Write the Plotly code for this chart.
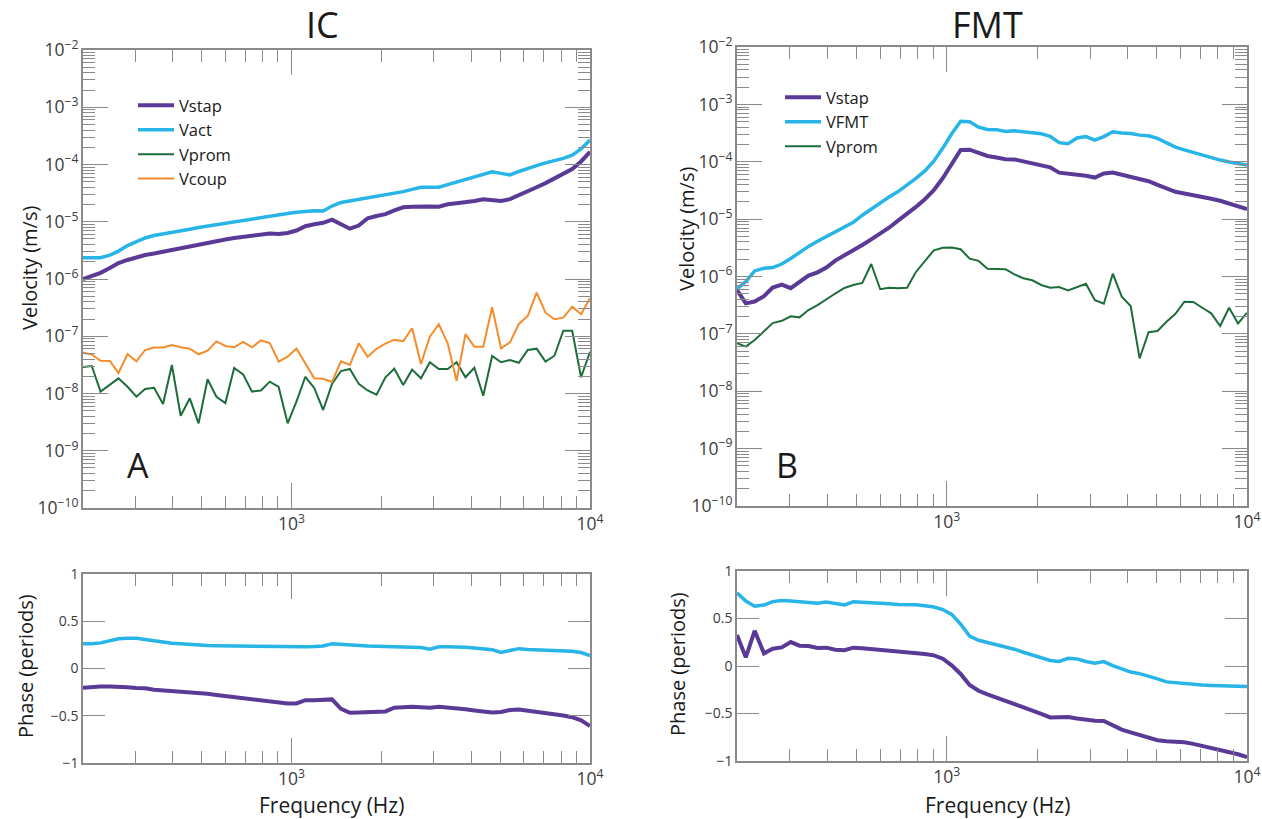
import math
import plotly.graph_objects as go

# Sweep frequencies (Hz)
freq = [200, 214, 229, 246, 263, 282, 302, 323, 346, 371,
        397, 425, 456, 488, 523, 560, 600, 642, 688, 737,
        789, 845, 905, 970, 1038, 1112, 1191, 1276, 1366, 1464,
        1568, 1679, 1798, 1926, 2063, 2209, 2366, 2534, 2714, 2907,
        3114, 3335, 3572, 3826, 4097, 4388, 4700, 5034, 5392, 5775,
        6185, 6624, 7095, 7599, 8139, 8717, 9336, 10000]

# IC: velocity amplitudes (m/s)
ic_vstap = [1.00e-6, 1.11e-6, 1.28e-6, 1.56e-6, 1.90e-6, 2.15e-6, 2.38e-6, 2.63e-6, 2.79e-6, 3.00e-6,
            3.21e-6, 3.47e-6, 3.79e-6, 4.09e-6, 4.35e-6, 4.61e-6, 4.90e-6, 5.20e-6, 5.46e-6, 5.70e-6,
            6.07e-6, 6.24e-6, 6.11e-6, 6.38e-6, 7.03e-6, 8.36e-6, 9.06e-6, 9.59e-6, 1.09e-5, 8.95e-6,
            7.57e-6, 8.59e-6, 1.15e-5, 1.26e-5, 1.36e-5, 1.58e-5, 1.79e-5, 1.82e-5, 1.86e-5, 1.85e-5,
            1.83e-5, 2.02e-5, 2.11e-5, 2.19e-5, 2.30e-5, 2.46e-5, 2.40e-5, 2.31e-5, 2.48e-5, 2.88e-5,
            3.39e-5, 4.00e-5, 4.73e-5, 5.69e-5, 6.93e-5, 8.34e-5, 1.13e-4, 1.67e-4]
ic_vact = [2.36e-6, 2.36e-6, 2.36e-6, 2.61e-6, 3.07e-6, 3.83e-6, 4.49e-6, 5.20e-6, 5.75e-6, 6.11e-6,
           6.62e-6, 6.78e-6, 7.41e-6, 7.94e-6, 8.43e-6, 8.88e-6, 9.35e-6, 9.91e-6, 1.05e-5, 1.12e-5,
           1.19e-5, 1.26e-5, 1.32e-5, 1.39e-5, 1.46e-5, 1.53e-5, 1.55e-5, 1.54e-5, 1.88e-5, 2.17e-5,
           2.30e-5, 2.47e-5, 2.64e-5, 2.79e-5, 2.96e-5, 3.09e-5, 3.36e-5, 3.67e-5, 4.00e-5, 4.00e-5,
           4.01e-5, 4.46e-5, 4.94e-5, 5.47e-5, 6.15e-5, 6.83e-5, 7.43e-5, 7.00e-5, 6.56e-5, 7.55e-5,
           8.65e-5, 9.57e-5, 1.07e-4, 1.17e-4, 1.28e-4, 1.45e-4, 1.87e-4, 2.68e-4]
ic_vprom = [2.90e-8, 3.02e-8, 1.08e-8, 1.41e-8, 1.84e-8, 1.31e-8, 8.79e-9, 1.20e-8, 1.26e-8, 6.56e-9,
            3.15e-8, 4.09e-9, 8.24e-9, 3.01e-9, 1.77e-8, 8.79e-9, 6.82e-9, 2.79e-8, 2.16e-8, 1.08e-8,
            1.13e-8, 1.61e-8, 1.30e-8, 3.01e-9, 7.19e-9, 1.96e-8, 1.25e-8, 5.15e-9, 1.47e-8, 2.47e-8,
            2.68e-8, 1.47e-8, 1.13e-8, 9.53e-9, 1.92e-8, 2.71e-8, 1.41e-8, 2.61e-8, 1.84e-8, 3.51e-8,
            2.68e-8, 2.68e-8, 3.51e-8, 1.92e-8, 2.82e-8, 9.16e-9, 4.52e-8, 3.51e-8, 3.85e-8, 3.45e-8,
            5.75e-8, 6.07e-8, 3.60e-8, 4.57e-8, 1.25e-7, 1.25e-7, 1.92e-8, 5.37e-8]
ic_vcoup = [5.16e-8, 4.80e-8, 3.74e-8, 3.70e-8, 2.28e-8, 4.90e-8, 3.65e-8, 5.75e-8, 6.36e-8, 6.36e-8,
            7.03e-8, 6.41e-8, 6.05e-8, 4.84e-8, 5.60e-8, 8.13e-8, 6.76e-8, 6.41e-8, 7.94e-8, 6.41e-8,
            8.45e-8, 7.62e-8, 3.59e-8, 4.40e-8, 6.11e-8, 3.33e-8, 1.85e-8, 1.81e-8, 1.59e-8, 3.65e-8,
            3.15e-8, 7.53e-8, 4.40e-8, 6.05e-8, 7.46e-8, 8.71e-8, 8.18e-8, 1.38e-7, 3.27e-8, 9.82e-8,
            1.62e-7, 7.53e-8, 1.67e-8, 1.09e-7, 6.56e-8, 6.56e-8, 3.21e-7, 6.17e-8, 7.83e-8, 1.64e-7,
            2.26e-7, 5.77e-7, 2.58e-7, 1.98e-7, 2.11e-7, 3.28e-7, 2.42e-7, 4.60e-7]

# FMT: velocity amplitudes (m/s)
fmt_vstap = [5.81e-7, 3.40e-7, 3.66e-7, 4.53e-7, 6.43e-7, 7.24e-7, 6.25e-7, 7.96e-7, 1.04e-6, 1.18e-6,
             1.43e-6, 1.89e-6, 2.32e-6, 2.94e-6, 3.55e-6, 4.44e-6, 5.52e-6, 7.08e-6, 9.42e-6, 1.22e-5,
             1.63e-5, 2.22e-5, 3.19e-5, 5.20e-5, 9.19e-5, 1.61e-4, 1.62e-4, 1.41e-4, 1.26e-4, 1.19e-4,
             1.11e-4, 1.10e-4, 1.01e-4, 9.38e-5, 8.83e-5, 7.98e-5, 6.45e-5, 6.15e-5, 6.08e-5, 5.72e-5,
             5.30e-5, 6.25e-5, 6.49e-5, 6.00e-5, 5.45e-5, 4.95e-5, 4.57e-5, 3.97e-5, 3.37e-5, 2.99e-5,
             2.80e-5, 2.64e-5, 2.46e-5, 2.27e-5, 2.09e-5, 1.89e-5, 1.71e-5, 1.49e-5]
fmt_vfmt = [6.05e-7, 8.18e-7, 1.25e-6, 1.39e-6, 1.43e-6, 1.65e-6, 2.06e-6, 2.61e-6, 3.35e-6, 4.10e-6,
            4.95e-6, 6.03e-6, 7.08e-6, 8.79e-6, 1.17e-5, 1.50e-5, 1.92e-5, 2.43e-5, 3.02e-5, 3.91e-5,
            5.15e-5, 6.93e-5, 1.02e-4, 1.73e-4, 3.07e-4, 5.07e-4, 4.99e-4, 4.00e-4, 3.65e-4, 3.63e-4,
            3.38e-4, 3.46e-4, 3.33e-4, 3.21e-4, 3.07e-4, 2.77e-4, 2.15e-4, 2.07e-4, 2.59e-4, 2.75e-4,
            2.38e-4, 2.75e-4, 3.33e-4, 3.16e-4, 3.10e-4, 2.91e-4, 2.83e-4, 2.56e-4, 2.12e-4, 1.80e-4,
            1.61e-4, 1.45e-4, 1.29e-4, 1.17e-4, 1.07e-4, 9.88e-5, 9.23e-5, 8.73e-5]
fmt_vprom = [6.90e-8, 6.00e-8, 7.80e-8, 1.12e-7, 1.54e-7, 1.69e-7, 2.02e-7, 1.94e-7, 2.60e-7, 3.18e-7,
             4.05e-7, 5.05e-7, 6.30e-7, 7.11e-7, 7.71e-7, 1.65e-6, 6.00e-7, 6.38e-7, 6.22e-7, 6.38e-7,
             1.20e-6, 1.87e-6, 2.86e-6, 3.18e-6, 3.21e-6, 2.98e-6, 2.05e-6, 1.87e-6, 1.37e-6, 1.35e-6,
             1.34e-6, 1.09e-6, 9.31e-7, 8.59e-7, 7.11e-7, 6.38e-7, 6.56e-7, 5.74e-7, 6.64e-7, 7.48e-7,
             3.85e-7, 3.35e-7, 1.12e-6, 4.44e-7, 3.05e-7, 3.73e-8, 1.07e-7, 1.12e-7, 1.63e-7, 2.24e-7,
             3.63e-7, 3.59e-7, 2.85e-7, 2.28e-7, 1.37e-7, 2.85e-7, 1.52e-7, 2.33e-7]

# Phase (periods)
ic_phase_act = [0.261, 0.261, 0.271, 0.296, 0.315, 0.319, 0.320, 0.308, 0.294, 0.278,
                0.268, 0.262, 0.254, 0.249, 0.243, 0.241, 0.239, 0.238, 0.236, 0.235,
                0.235, 0.234, 0.233, 0.232, 0.230, 0.229, 0.232, 0.238, 0.261, 0.254,
                0.244, 0.241, 0.239, 0.236, 0.234, 0.232, 0.229, 0.226, 0.222, 0.204,
                0.229, 0.229, 0.229, 0.225, 0.218, 0.210, 0.199, 0.171, 0.194, 0.210,
                0.201, 0.198, 0.194, 0.192, 0.188, 0.183, 0.169, 0.137]
ic_phase_stap = [-0.204, -0.195, -0.190, -0.190, -0.190, -0.199, -0.206, -0.209, -0.225, -0.231,
                 -0.237, -0.243, -0.249, -0.257, -0.268, -0.280, -0.292, -0.303, -0.313, -0.327,
                 -0.340, -0.354, -0.365, -0.370, -0.370, -0.335, -0.335, -0.333, -0.327, -0.426,
                 -0.468, -0.465, -0.461, -0.458, -0.454, -0.415, -0.405, -0.405, -0.410, -0.415,
                 -0.405, -0.412, -0.423, -0.432, -0.444, -0.455, -0.465, -0.461, -0.440, -0.433,
                 -0.444, -0.456, -0.470, -0.483, -0.497, -0.515, -0.549, -0.609]
fmt_phase_fmt = [0.771, 0.683, 0.629, 0.641, 0.678, 0.690, 0.683, 0.674, 0.667, 0.661,
                 0.674, 0.662, 0.643, 0.676, 0.672, 0.668, 0.666, 0.656, 0.648, 0.648,
                 0.644, 0.635, 0.621, 0.594, 0.543, 0.440, 0.315, 0.271, 0.249, 0.228,
                 0.205, 0.177, 0.145, 0.117, 0.091, 0.058, 0.047, 0.081, 0.075, 0.047,
                 0.029, 0.046, 0.005, -0.033, -0.064, -0.080, -0.104, -0.135, -0.167, -0.177,
                 -0.182, -0.193, -0.199, -0.204, -0.208, -0.212, -0.214, -0.217]
fmt_phase_stap = [0.326, 0.091, 0.371, 0.133, 0.182, 0.196, 0.252, 0.214, 0.210, 0.189,
                  0.193, 0.172, 0.166, 0.193, 0.186, 0.178, 0.172, 0.159, 0.147, 0.147,
                  0.138, 0.127, 0.112, 0.077, 0.007, -0.084, -0.200, -0.261, -0.299, -0.333,
                  -0.361, -0.392, -0.427, -0.462, -0.504, -0.541, -0.539, -0.536, -0.553, -0.567,
                  -0.576, -0.578, -0.625, -0.670, -0.698, -0.723, -0.753, -0.782, -0.792, -0.797,
                  -0.802, -0.820, -0.840, -0.864, -0.884, -0.905, -0.929, -0.960]

PURPLE = "#5b3a97"
CYAN = "#27b4e6"
GREEN = "#1d6d3b"
ORANGE = "#f68b2b"
AX = "#8a8a8a"
FONT = "Open Sans"
W, H = 1262, 819

fig = go.Figure()


def line(x, y, name, color, width, xa, ya, legend=None):
    fig.add_trace(go.Scatter(
        x=x, y=y, name=name, mode="lines",
        line=dict(color=color, width=width),
        xaxis=xa, yaxis=ya,
        showlegend=legend is not None,
        legend=legend or "legend",
    ))


# Panel A (IC)
line(freq, ic_vstap, "Vstap", PURPLE, 4, "x", "y", "legend")
line(freq, ic_vact, "Vact", CYAN, 3.5, "x", "y", "legend")
line(freq, ic_vprom, "Vprom", GREEN, 2, "x", "y", "legend")
line(freq, ic_vcoup, "Vcoup", ORANGE, 2, "x", "y", "legend")
# Panel B (FMT)
line(freq, fmt_vstap, "Vstap", PURPLE, 4, "x2", "y2", "legend2")
line(freq, fmt_vfmt, "VFMT", CYAN, 3.5, "x2", "y2", "legend2")
line(freq, fmt_vprom, "Vprom", GREEN, 2, "x2", "y2", "legend2")
# Phase panels
line(freq, ic_phase_act, "Vact", CYAN, 3.5, "x3", "y3")
line(freq, ic_phase_stap, "Vstap", PURPLE, 4, "x3", "y3")
line(freq, fmt_phase_fmt, "VFMT", CYAN, 3.5, "x4", "y4")
line(freq, fmt_phase_stap, "Vstap", PURPLE, 4, "x4", "y4")


def px_x(a, b):
    return [a / W, b / W]


def px_y(top, bottom):
    return [1 - bottom / H, 1 - top / H]


TICKFONT = dict(family=FONT, size=14, color="#3c3c3c")


def common(**kw):
    d = dict(showline=True, linecolor=AX, linewidth=1.5, mirror="allticks",
             ticks="inside", tickcolor=AX, tickwidth=1.2, showgrid=False,
             zeroline=False, tickfont=TICKFONT, automargin=False)
    d.update(kw)
    return d


def freq_axis(dom, anchor):
    return common(type="log", range=[math.log10(200), 4], domain=dom, anchor=anchor,
                  dtick=1, exponentformat="power", ticklen=25,
                  minor=dict(ticks="inside", ticklen=12, tickcolor=AX, tickwidth=1.2,
                             dtick="D1", showgrid=False))


def vel_axis(dom, anchor):
    return common(type="log", range=[-10, -2], domain=dom, anchor=anchor,
                  dtick=1, exponentformat="power", ticklen=25,
                  minor=dict(ticks="inside", ticklen=12, tickcolor=AX, tickwidth=1.2,
                             dtick="D1", showgrid=False))


def phase_axis(dom, anchor):
    return common(range=[-1, 1], domain=dom, anchor=anchor, dtick=0.5, ticklen=22)


LX = px_x(83, 590)
RX = px_x(737, 1247)

fig.update_layout(
    width=W, height=H,
    margin=dict(l=0, r=0, t=0, b=0, autoexpand=False),
    paper_bgcolor="white", plot_bgcolor="white",
    font=dict(family=FONT, color="#1a1a1a"),
    xaxis=freq_axis(LX, "y"),
    yaxis=vel_axis(px_y(50, 508), "x"),
    xaxis2=freq_axis(RX, "y2"),
    yaxis2=vel_axis(px_y(47, 506), "x2"),
    xaxis3=freq_axis(LX, "y3"),
    yaxis3=phase_axis(px_y(574, 763), "x3"),
    xaxis4=freq_axis(RX, "y4"),
    yaxis4=phase_axis(px_y(571, 761), "x4"),
    legend=dict(x=133 / W, y=1 - 88 / H, xanchor="left", yanchor="top",
                bgcolor="rgba(0,0,0,0)", font=dict(family=FONT, size=16.5, color="#1a1a1a"),
                itemwidth=36, tracegroupgap=0),
    legend2=dict(x=780 / W, y=1 - 80 / H, xanchor="left", yanchor="top",
                 bgcolor="rgba(0,0,0,0)", font=dict(family=FONT, size=16.5, color="#1a1a1a"),
                 itemwidth=36, tracegroupgap=0),
)

ann = []


def text(x, y, s, size, angle=0):
    ann.append(dict(x=x / W, y=1 - y / H, xref="paper", yref="paper", text=s,
                    showarrow=False, textangle=angle, xanchor="center", yanchor="middle",
                    font=dict(family=FONT, size=size, color="#1a1a1a")))


text(322, 24, "IC", 36)
text(988, 24, "FMT", 36)
text(138, 465, "A", 34)
text(787, 465, "B", 34)
text(30, 268, "Velocity (m/s)", 20, -90)
text(686, 229, "Velocity (m/s)", 20, -90)
text(25, 666, "Phase (periods)", 20, -90)
text(677, 664, "Phase (periods)", 20, -90)
text(331, 805, "Frequency (Hz)", 21)
text(997, 805, "Frequency (Hz)", 21)
fig.update_layout(annotations=ann)

fig.write_html("out.html")
